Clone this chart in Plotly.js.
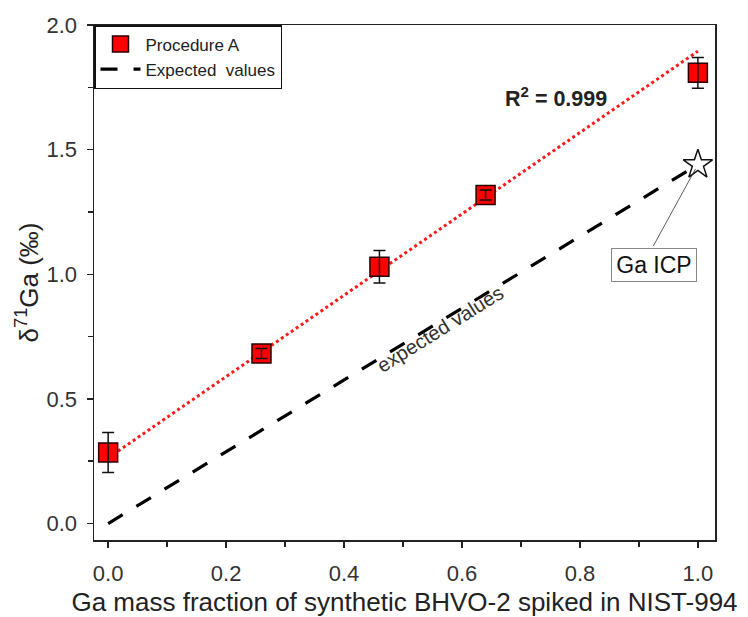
<!DOCTYPE html>
<html>
<head>
<meta charset="utf-8">
<script src="https://cdn.plot.ly/plotly-3.0.1.min.js"></script>
<style>
  html, body { margin: 0; padding: 0; background: #fff; }
  #chart { width: 748px; height: 617px; }
</style>
</head>
<body>
<div id="chart"></div>
<script>
// Ga mass fraction of synthetic BHVO-2 spiked into NIST-994
const massFraction = [0.0, 0.26, 0.46, 0.64, 1.0];
const deltaGa = [0.285, 0.682, 1.03, 1.318, 1.808];
const deltaGaErr = [0.08, 0.02, 0.065, 0.02, 0.062];

// Linear regression through Procedure A
const fitX = [0.0, 1.0];
const fitY = [0.263, 1.895];

// Expected values (theoretical mixing line) and the Ga ICP standard
const expectedX = [0.0, 1.0];
const expectedY = [0.0, 1.44];
const icpX = [1.0];
const icpY = [1.44];

const xTicks = [0, 0.2, 0.4, 0.6, 0.8, 1.0];
const xTickText = ['0.0', '0.2', '0.4', '0.6', '0.8', '1.0'];
const yTicks = [0, 0.5, 1.0, 1.5, 2.0];
const yTickText = ['0.0', '0.5', '1.0', '1.5', '2.0'];

const FONT = 'Liberation Sans, Arial, sans-serif';
const AXIS_COLOR = '#222';

const traces = [
  {
    x: fitX, y: fitY, mode: 'lines', showlegend: false, hoverinfo: 'skip',
    line: { color: '#ff1a1a', width: 3, dash: 'dot' }
  },
  {
    x: expectedX, y: expectedY, mode: 'lines', name: 'Expected\u00a0 values',
    legendrank: 2,
    line: { color: '#000', width: 3.2, dash: '17px,16px' }
  },
  {
    x: massFraction, y: deltaGa, mode: 'markers', name: 'Procedure A',
    legendrank: 1,
    marker: { symbol: 'square', size: 19, color: '#ff0000',
              line: { color: '#2a0000', width: 1.5 } }
  },
  {
    // error bars drawn above the squares
    x: massFraction, y: deltaGa, mode: 'markers', showlegend: false, hoverinfo: 'skip',
    marker: { size: 1, opacity: 0 },
    error_y: { type: 'data', array: deltaGaErr, visible: true,
               color: '#111', thickness: 1.5, width: 6 }
  },
  {
    x: icpX, y: icpY, mode: 'markers', showlegend: false,
    marker: { symbol: 'star', size: 22, color: '#fff',
              line: { color: '#111', width: 1.5 } }
  }
];

const layout = {
  width: 748, height: 617,
  margin: { l: 94, r: 33, t: 25, b: 77 },
  paper_bgcolor: '#fff', plot_bgcolor: '#fff',
  font: { family: FONT, color: '#333' },
  showlegend: true,
  legend: {
    x: 0, y: 1, xanchor: 'left', yanchor: 'top',
    bgcolor: '#fff', bordercolor: '#111', borderwidth: 1.5,
    font: { family: FONT, size: 17, color: '#222' },
    itemwidth: 40,
    tracegroupgap: 0
  },
  xaxis: {
    range: [-0.024, 1.029],
    tickvals: xTicks, ticktext: xTickText,
    ticks: 'outside', ticklen: 6, tickwidth: 1.5, tickcolor: AXIS_COLOR,
    minor: { dtick: 0.1, ticks: 'outside', ticklen: 5, tickwidth: 1.5, tickcolor: AXIS_COLOR },
    showline: true, linecolor: AXIS_COLOR, linewidth: 1.5, mirror: true,
    showgrid: false, zeroline: false,
    ticklabelstandoff: 7,
    tickfont: { family: FONT, size: 22, color: '#333' },
    title: { text: 'Ga mass fraction of synthetic BHVO-2 spiked in NIST-994',
             font: { family: FONT, size: 26, color: '#222' }, standoff: 9 }
  },
  yaxis: {
    range: [-0.066, 2.0],
    tickvals: yTicks, ticktext: yTickText,
    ticks: 'outside', ticklen: 6, tickwidth: 1.5, tickcolor: AXIS_COLOR,
    minor: { dtick: 0.25, ticks: 'outside', ticklen: 5, tickwidth: 1.5, tickcolor: AXIS_COLOR },
    showline: true, linecolor: AXIS_COLOR, linewidth: 1.5, mirror: true,
    showgrid: false, zeroline: false,
    ticklabelstandoff: 5,
    tickfont: { family: FONT, size: 22, color: '#333' },
    title: { text: 'δ<sup>71</sup>Ga (‰)',
             font: { family: FONT, size: 26, color: '#222' }, standoff: 0 }
  },
  annotations: [
    {
      x: 0.669, y: 1.711, xref: 'x', yref: 'y', xanchor: 'left', yanchor: 'middle',
      text: '<b>R<sup>2</sup> = 0.999</b>', showarrow: false,
      font: { family: FONT, size: 21.5, color: '#222' }
    },
    {
      x: 0.563, y: 0.78, xref: 'x', yref: 'y',
      text: 'expected values', showarrow: false, textangle: -32,
      font: { family: FONT, size: 20, color: '#333' }
    },
    {
      // leader from the label box to the Ga ICP star
      x: icpX[0], y: icpY[0], xref: 'x', yref: 'y',
      ax: -46, ay: 84, text: ' ', showarrow: true, arrowhead: 0,
      arrowwidth: 0.8, arrowcolor: '#333', standoff: 5,
      font: { size: 2 }
    },
    {
      x: 0.925, y: 1.036, xref: 'x', yref: 'y',
      text: 'Ga ICP', showarrow: false,
      width: 82, height: 30, borderpad: 1,
      bordercolor: '#888', borderwidth: 1, bgcolor: '#fff',
      font: { family: FONT, size: 23, color: '#111' }
    }
  ]
};

Plotly.newPlot('chart', traces, layout, { displayModeBar: false, staticPlot: true });
</script>
</body>
</html>
